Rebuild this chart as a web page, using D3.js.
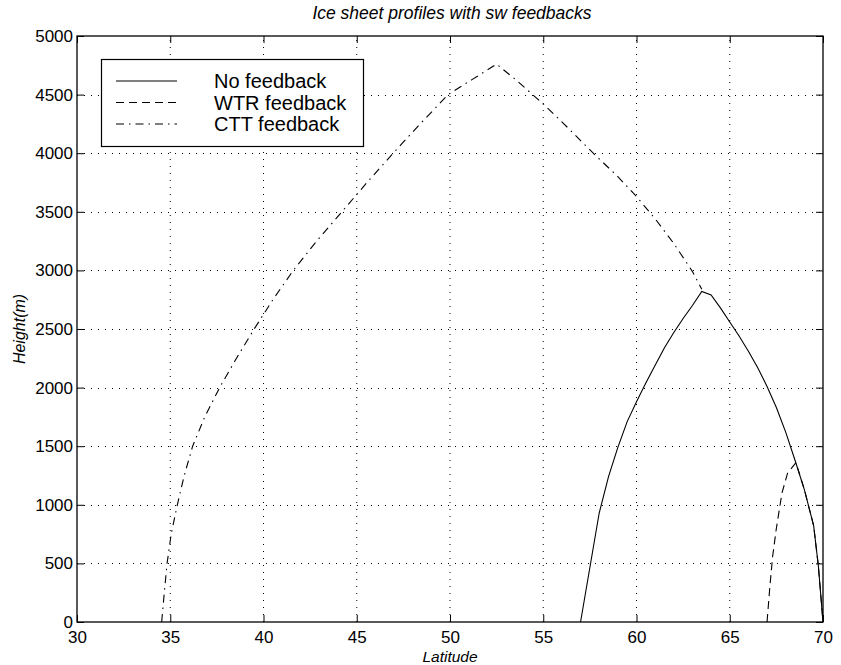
<!DOCTYPE html>
<html>
<head>
<meta charset="utf-8">
<script src="https://cdn.jsdelivr.net/npm/d3@7"></script>
<style>
  html, body { margin: 0; padding: 0; background: #fff; }
  svg { display: block; }
  text { font-family: "Liberation Sans", Arial, Helvetica, sans-serif; fill: #000; }
</style>
</head>
<body>
<svg id="chart" width="841" height="665"></svg>
<script>
// ---- data ----
const title = "Ice sheet profiles with sw feedbacks";
const xLabel = "Latitude";
const yLabel = "Height(m)";
const xTicks = [30, 35, 40, 45, 50, 55, 60, 65, 70];
const yTicks = [0, 500, 1000, 1500, 2000, 2500, 3000, 3500, 4000, 4500, 5000];
const seriesNames = ["No feedback", "WTR feedback", "CTT feedback"];

const noFeedbackLat = [57.0, 58.0, 58.5, 59.0, 59.5, 60.0, 60.5, 61.0, 61.5, 62.0, 62.5, 63.0, 63.5, 64.0, 64.5, 65.0, 65.5, 66.0, 66.5, 67.0, 67.5, 68.0, 68.5, 69.0, 69.5, 69.75, 70.0];
const noFeedbackH   = [0, 930, 1240, 1490, 1710, 1880, 2040, 2190, 2340, 2470, 2590, 2700, 2820, 2790, 2680, 2560, 2440, 2310, 2170, 2010, 1830, 1620, 1380, 1130, 820, 480, 0];

const wtrLat = [67.0, 67.15, 67.3, 67.5, 67.8, 68.1, 68.55, 69.0, 69.5, 69.75, 70.0];
const wtrH   = [0, 300, 560, 800, 1100, 1270, 1360, 1130, 820, 480, 0];

const cttLat = [34.54, 34.68, 34.83, 35.05, 35.38, 35.75, 36.2, 36.85, 37.65, 38.55, 39.5, 40.5, 41.6, 42.85, 44.2, 45.55, 46.95, 48.4, 49.9, 51.2, 52.5, 53.5, 54.43, 55.0, 56.3, 57.68, 59.0, 60.0, 61.0, 62.0, 63.0, 63.5];
const cttH   = [0, 250, 500, 750, 1000, 1250, 1500, 1750, 2000, 2250, 2500, 2750, 3000, 3250, 3500, 3750, 4000, 4250, 4500, 4630, 4760, 4630, 4500, 4420, 4220, 4000, 3800, 3630, 3440, 3230, 2990, 2840];

// ---- layout ----
const svg = d3.select("#chart");
const L = 77, R = 823, T = 36, B = 622;
const x = d3.scaleLinear().domain([30, 70]).range([L, R]);
const y = d3.scaleLinear().domain([0, 5000]).range([B, T]);
const tickLen = 7;
const fontTick = 17;
const fontFam = '"Liberation Sans", Arial, Helvetica, sans-serif';

// grid
const grid = svg.append("g").attr("stroke", "#000").attr("stroke-width", 1)
  .attr("stroke-dasharray", "1,6");
grid.selectAll("line.gx").data(xTicks.slice(1, -1)).enter().append("line")
  .attr("x1", d => x(d)).attr("x2", d => x(d))
  .attr("y1", B).attr("y2", T);
grid.selectAll("line.gy").data(yTicks.slice(1, -1)).enter().append("line")
  .attr("y1", d => Math.round(y(d)) + 0.5).attr("y2", d => Math.round(y(d)) + 0.5)
  .attr("x1", L).attr("x2", R);

// axes with inward ticks
const fmt = d => String(d);
const gx = svg.append("g").attr("transform", `translate(0,${B})`)
  .call(d3.axisBottom(x).tickValues(xTicks).tickFormat(fmt).tickSizeInner(-tickLen).tickSizeOuter(0).tickPadding(9));
const gxTop = svg.append("g").attr("transform", `translate(0,${T})`)
  .call(d3.axisTop(x).tickValues(xTicks).tickSizeInner(-tickLen).tickSizeOuter(0).tickFormat(""));
const gy = svg.append("g").attr("transform", `translate(${L},0)`)
  .call(d3.axisLeft(y).tickValues(yTicks).tickFormat(fmt).tickSizeInner(-tickLen).tickSizeOuter(0).tickPadding(4));
const gyR = svg.append("g").attr("transform", `translate(${R},0)`)
  .call(d3.axisRight(y).tickValues(yTicks).tickSizeInner(-tickLen).tickSizeOuter(0).tickFormat(""));
[gx, gxTop, gy, gyR].forEach(g => {
  g.select(".domain").remove();
  g.selectAll("line").attr("stroke", "#000").attr("stroke-width", 1);
  g.selectAll("text").style("font-size", fontTick + "px").style("font-family", fontFam);
});
gx.selectAll("text").attr("dy", "0.71em");

// frame
svg.append("rect").attr("x", L).attr("y", T).attr("width", R - L).attr("height", B - T)
  .attr("fill", "none").attr("stroke", "#000").attr("stroke-width", 1.3);

// lines
const line = d3.line().x(d => x(d[0])).y(d => y(d[1]));
const styles = [null, "8,5", "8,5,1.5,5"];
const data = [
  d3.zip(noFeedbackLat, noFeedbackH),
  d3.zip(wtrLat, wtrH),
  d3.zip(cttLat, cttH)
];
data.forEach((pts, i) => {
  svg.append("path").datum(pts).attr("d", line)
    .attr("fill", "none").attr("stroke", "#000").attr("stroke-width", 1.1)
    .attr("stroke-dasharray", styles[i]);
});

// legend
const lg = svg.append("g");
lg.append("rect").attr("x", 101.5).attr("y", 59.5).attr("width", 262).attr("height", 87)
  .attr("fill", "#fff").attr("stroke", "#000").attr("stroke-width", 1.2);
const rowY = [81, 102.5, 124];
seriesNames.forEach((name, i) => {
  lg.append("line").attr("x1", 116).attr("x2", 177).attr("y1", rowY[i]).attr("y2", rowY[i])
    .attr("stroke", "#000").attr("stroke-width", 1.1).attr("stroke-dasharray", styles[i]);
  lg.append("text").attr("x", 214).attr("y", rowY[i]).attr("dy", "0.36em")
    .style("font-size", "20px").text(name);
});

// title & labels
svg.append("text").attr("x", (L + R) / 2 + 2).attr("y", 19).attr("text-anchor", "middle")
  .style("font-size", "17.5px").style("font-style", "italic").text(title);
svg.append("text").attr("x", (L + R) / 2).attr("y", 662).attr("text-anchor", "middle")
  .style("font-size", "15.5px").style("font-style", "italic").text(xLabel);
svg.append("text").attr("transform", `translate(25,${(T + B) / 2}) rotate(-90)`)
  .attr("text-anchor", "middle").style("font-size", "16px").style("font-style", "italic").text(yLabel);
</script>
</body>
</html>
